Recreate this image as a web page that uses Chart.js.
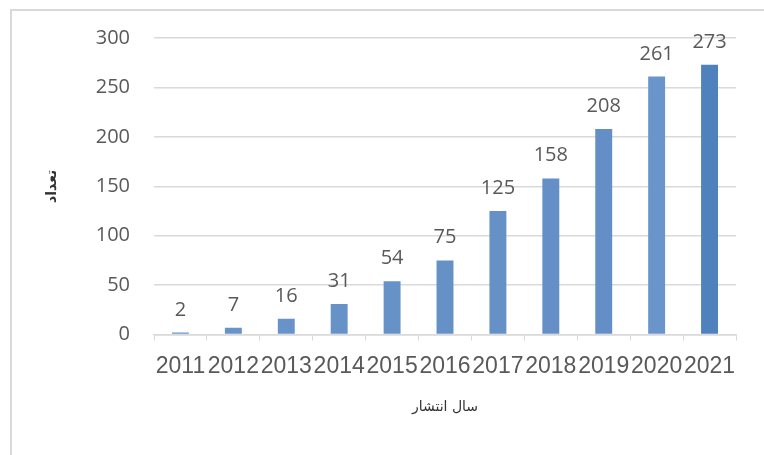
<!DOCTYPE html>
<html>
<head>
<meta charset="utf-8">
<script src="https://cdn.jsdelivr.net/npm/chart.js@4.4.1/dist/chart.umd.min.js"></script>
<style>
  html, body { margin: 0; padding: 0; background: #fff; }
  body { width: 764px; height: 455px; position: relative; overflow: hidden; }
  .frame { position: absolute; left: 10px; top: 9px; width: 780px; height: 480px; border: 2px solid #d9d9d9; box-sizing: border-box; }
  #chart { position: absolute; left: 0; top: 0; }
</style>
</head>
<body>
<div class="frame"></div>
<canvas id="chart" width="764" height="455"></canvas>
<script>
'use strict';

const years = ['2011', '2012', '2013', '2014', '2015', '2016', '2017', '2018', '2019', '2020', '2021'];
const counts = [2, 7, 16, 31, 54, 75, 125, 158, 208, 261, 273];
const yTicks = [0, 50, 100, 150, 200, 250, 300];

const barColors = ['#6a95ca', '#6893c9', '#6893c9', '#6692c8', '#6692c8', '#6591c7', '#6591c7', '#6490c7', '#638fc6', '#6a95ca', '#4f81bd'];

const textGray = '#595959';
const gridGray = '#d9d9d9';

// value labels above each bar
const valueLabels = {
  id: 'valueLabels',
  afterDatasetsDraw(chart) {
    const { ctx } = chart;
    const meta = chart.getDatasetMeta(0);
    ctx.save();
    ctx.font = '20px "Open Sans", sans-serif';
    ctx.fillStyle = textGray;
    ctx.textAlign = 'center';
    ctx.textBaseline = 'alphabetic';
    meta.data.forEach((bar, i) => {
      ctx.fillText(String(counts[i]), bar.x, bar.y - 17);
    });
    ctx.restore();
  }
};

new Chart(document.getElementById('chart'), {
  type: 'bar',
  data: {
    labels: years,
    datasets: [{
      data: counts,
      backgroundColor: barColors,
      borderWidth: 0,
      barPercentage: 0.32,
      categoryPercentage: 1
    }]
  },
  options: {
    responsive: false,
    animation: false,
    layout: { padding: { left: 40, right: 28, top: 38, bottom: 35 } },
    plugins: { legend: { display: false }, tooltip: { enabled: false } },
    scales: {
      x: {
        grid: { offset: true, drawOnChartArea: false, drawTicks: true, tickLength: 6, color: gridGray },
        border: { display: true, color: gridGray, width: 1.5 },
        ticks: { color: textGray, font: { family: '"Liberation Sans", Arial, sans-serif', size: 23 }, padding: 12, maxRotation: 0, autoSkip: false },
        title: { display: true, text: 'سال انتشار', color: '#333', font: { family: '"DejaVu Sans", sans-serif', size: 14 }, padding: { top: 7 } }
      },
      y: {
        min: 0,
        max: 300,
        afterBuildTicks(axis) { axis.ticks = yTicks.map((v) => ({ value: v })); },
        afterFit(axis) { axis.width = 114; },
        grid: { drawTicks: false, color: gridGray, lineWidth: 1.5 },
        border: { display: false },
        ticks: { color: textGray, font: { family: '"Open Sans", sans-serif', size: 20 }, padding: 24 },
        title: { display: true, text: 'تعداد', color: '#333', font: { family: '"DejaVu Sans", sans-serif', size: 14, weight: 'bold' }, padding: { bottom: 0 } }
      }
    }
  },
  plugins: [valueLabels]
});
</script>
</body>
</html>
